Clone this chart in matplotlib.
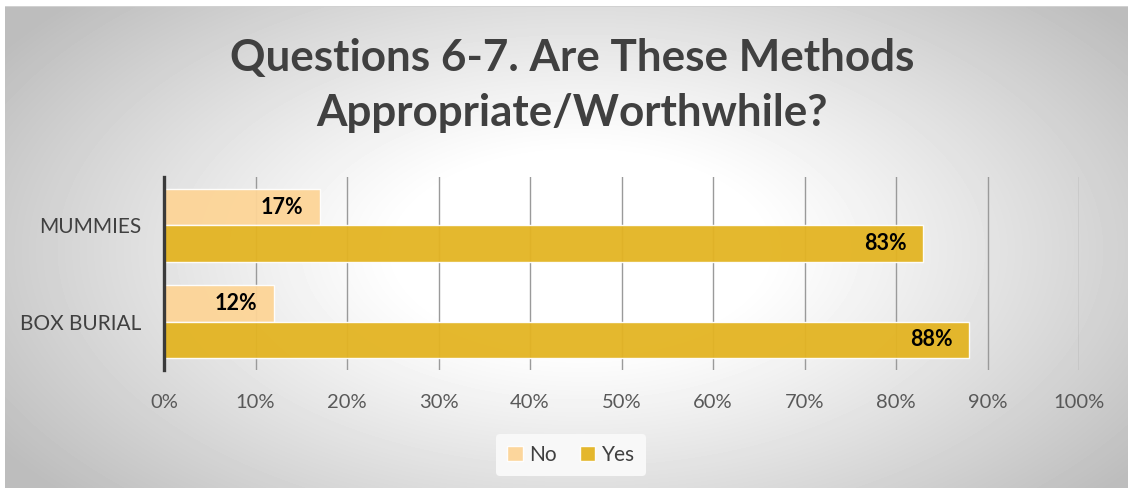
import numpy as np
import matplotlib.pyplot as plt

categories = ["BOX BURIAL", "MUMMIES"]
no_vals = [12, 17]
yes_vals = [88, 83]
series_names = ["No", "Yes"]
x_ticks = [0, 10, 20, 30, 40, 50, 60, 70, 80, 90, 100]

NO_COLOR = "#FDD597"
YES_COLOR = "#E3B422"
TEXT = "#404040"
TICK = "#595959"

plt.rcParams["font.family"] = ["Lato", "DejaVu Sans"]

W, H = 1128, 488
fig = plt.figure(figsize=(W / 100, H / 100), dpi=100)
fig.patch.set_facecolor("white")

# radial grey-to-white backdrop
bg = fig.add_axes([0, 0, 1, 1], zorder=-10)
yy, xx = np.mgrid[0:H, 0:W]
t = np.sqrt(((xx - 580) / 600.0) ** 2 + ((yy - 250) / 320.0) ** 2)
t = np.clip((t - 0.3) / 0.85, 0, 1)
shade = 1.0 - 0.26 * t ** 1.1
shade[:6, :] = 1.0
shade[:, :5] = 1.0
shade[6, 5:] = 0.82
bg.imshow(shade, cmap="gray", vmin=0, vmax=1, extent=[0, W, H, 0], aspect="auto",
          interpolation="bilinear")
bg.set_xlim(0, W)
bg.set_ylim(H, 0)
bg.axis("off")

ax = fig.add_axes([164 / W, 1 - 370 / H, (1079 - 164) / W, (370 - 177) / H])
ax.patch.set_alpha(0)

h = 0.378
y = np.arange(len(categories))
b_no = ax.barh(y + h / 2, no_vals, height=h, color=NO_COLOR, edgecolor=(1, 1, 1, 0.5),
               linewidth=1, alpha=0.95, zorder=3, label=series_names[0])
b_yes = ax.barh(y - h / 2, yes_vals, height=h, color=YES_COLOR, edgecolor=(1, 1, 1, 0.5),
                linewidth=1, alpha=0.95, zorder=3, label=series_names[1])

for bars, vals in ((b_no, no_vals), (b_yes, yes_vals)):
    for bar, v in zip(bars, vals):
        ax.text(v - 1.8, bar.get_y() + bar.get_height() / 2, f"{v}%", ha="right",
                va="center", fontsize=15.5, fontweight="bold", color="black", zorder=5)

ax.set_xlim(0, 100)
ax.set_ylim(-0.5, 1.5)
ax.set_xticks(x_ticks)
ax.set_xticklabels([f"{v}%" for v in x_ticks], fontsize=14.5, color=TICK)
ax.set_yticks(y)
ax.set_yticklabels(categories, fontsize=15, color=TEXT)
ax.tick_params(axis="both", length=0)
ax.tick_params(axis="x", pad=17)
ax.tick_params(axis="y", pad=16)
ax.xaxis.grid(True, color="#9a9a9a", linewidth=1, zorder=1)
ax.set_axisbelow(True)
for s in ("top", "right", "bottom"):
    ax.spines[s].set_visible(False)
ax.spines["left"].set_color("#3a3a3a")
ax.spines["left"].set_linewidth(2.4)
ax.spines["left"].set_zorder(6)

fig.text(572 / W, 1 - 58 / H, "Questions 6-7. Are These Methods", ha="center",
         va="center", fontsize=31.7, fontweight="bold", color=TEXT)
fig.text(572 / W, 1 - 113 / H, "Appropriate/Worthwhile?", ha="center",
         va="center", fontsize=31.7, fontweight="bold", color=TEXT)

leg = fig.legend(handles=[b_no, b_yes], loc="center", bbox_to_anchor=(571 / W, 1 - 455 / H),
                 ncol=2, frameon=True, fontsize=15, handlelength=0.75, handleheight=0.75,
                 handletextpad=0.3, columnspacing=1.1, borderpad=0.55)
leg.get_frame().set_facecolor("#f8f8f8")
leg.get_frame().set_edgecolor("none")
leg.get_frame().set_alpha(1)
for txt in leg.get_texts():
    txt.set_color(TEXT)

fig.savefig("out.png", dpi=100)
